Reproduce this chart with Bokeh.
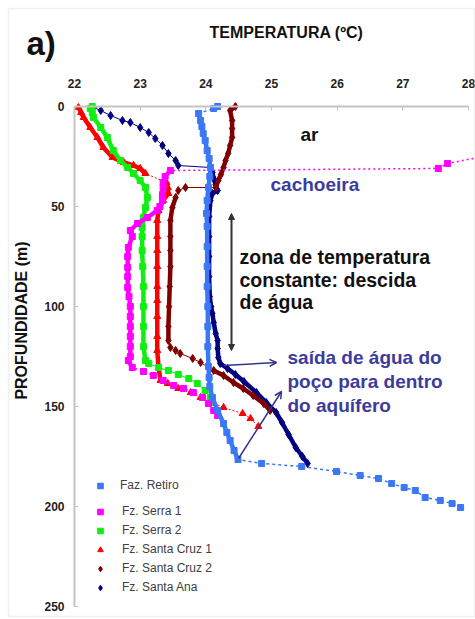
from bokeh.plotting import figure
from bokeh.models import (Range1d, FixedTicker, Label, Arrow, OpenHead, NormalHead,
                          Legend, LegendItem, BoxAnnotation, ColumnDataSource, LinearAxis)
from bokeh.embed import file_html
from bokeh.resources import INLINE

# ---------------- data (temperature in degC, depth in m) ----------------
retiro_head_depth = [0, 1]
retiro_head_temp = [24.18, 24.12]
retiro_depth = [3.5, 7, 10, 13.5, 17, 22, 26, 30.5, 35, 40.5, 47, 53.5, 60, 70, 80, 90, 100, 110,
                120, 130, 135.5, 140, 145.5, 152, 158.5, 163, 167, 172, 176.5]
retiro_temp = [23.89, 23.92, 23.94, 23.96, 23.99, 24.02, 24.05, 24.07, 24.06, 24.04, 24.02, 24.01,
               24.02, 24.02, 24.02, 24.02, 24.03, 24.03, 24.03, 24.04, 24.05, 24.06, 24.10, 24.18,
               24.27, 24.32, 24.37, 24.43, 24.49]
retiro_tail_depth = [178.5, 180, 182.5, 184.5, 186, 188.5, 190.5, 192, 195.5, 197, 198.5, 200.5]
retiro_tail_temp = [24.85, 25.46, 25.99, 26.35, 26.63, 26.83, 27.02, 27.19, 27.34, 27.57, 27.75, 27.88]

serra1_air_depth = [24.5, 28.5, 31]
serra1_air_temp = [28.3, 27.68, 27.54]
serra1_depth = [32, 35, 38, 40.5, 44, 47, 50, 52, 55.5, 58.5, 62, 65, 70.5, 75, 80.5, 85, 90.5, 95,
                100, 105, 110, 115, 120, 125, 127, 130.5]
serra1_temp = [23.46, 23.38, 23.35, 23.35, 23.34, 23.34, 23.30, 23.26, 23.11, 22.96, 22.85, 22.88,
               22.82, 22.81, 22.81, 22.81, 22.81, 22.83, 22.85, 22.85, 22.85, 22.85, 22.85, 22.85,
               22.82, 22.88]
serra1_drop_depth = [132.5, 134.5, 137, 139.5, 141, 143, 145.5, 148.5, 152, 154.5]
serra1_drop_temp = [23.05, 23.20, 23.35, 23.51, 23.66, 23.81, 23.95, 24.04, 24.12, 24.18]

serra2_depth = [0, 1, 3, 5.5, 10.5, 15.5, 22, 27, 30.5, 33.5, 37, 40.5, 45.5, 50.5, 55.5, 60.5, 65,
                72, 80, 90, 100, 110, 120, 127]
serra2_temp = [22.27, 22.24, 22.27, 22.29, 22.40, 22.50, 22.59, 22.70, 22.81, 22.90, 23.00, 23.08,
               23.11, 23.08, 23.05, 23.03, 23.03, 23.03, 23.04, 23.05, 23.05, 23.05, 23.05, 23.08]
serra2_drop_depth = [128.5, 130.5, 132, 134, 136, 138.5, 142, 145.5, 148]
serra2_drop_temp = [23.13, 23.28, 23.43, 23.58, 23.74, 23.87, 23.99, 24.07, 24.10]

cruz1_top_depth = [0.5, 3, 5.5, 10.5, 15.5, 20.5, 25.5, 28, 29.5, 31, 33.5]
cruz1_top_temp = [22.06, 22.10, 22.14, 22.24, 22.35, 22.44, 22.58, 22.75, 22.90, 23.00, 23.08]
cruz1_depth = [38, 40.5, 43.5, 47, 52, 57, 65, 72, 80, 90, 97, 105, 115, 122, 130.5, 137]
cruz1_temp = [23.40, 23.42, 23.43, 23.35, 23.28, 23.26, 23.26, 23.26, 23.26, 23.26, 23.26, 23.26,
              23.26, 23.26, 23.28, 23.31]
cruz1_drop_depth = [138.5, 141, 143, 145.5, 148, 150.5, 153.5, 156, 160]
cruz1_drop_temp = [23.42, 23.58, 23.77, 23.92, 24.10, 24.27, 24.56, 24.68, 24.80]

cruz2_top_depth = [0, 2, 7, 11, 15.5, 19.5, 23.5, 27, 30.5, 34, 37, 40.5]
cruz2_top_temp = [24.45, 24.37, 24.40, 24.40, 24.40, 24.37, 24.34, 24.30, 24.27, 24.23, 24.19, 24.15]
cruz2_jump_depth = [40.5, 42]
cruz2_jump_temp = [23.69, 23.58]
cruz2_depth = [45.5, 50.5, 57, 65, 72, 80, 90, 100, 110, 117]
cruz2_temp = [23.54, 23.49, 23.46, 23.46, 23.46, 23.46, 23.45, 23.44, 23.43, 23.43]
cruz2_bend_depth = [120.5, 122, 123.5, 126, 128]
cruz2_bend_temp = [23.46, 23.54, 23.61, 23.80, 23.92]
cruz2_drop_depth = [132, 134.5, 138, 141, 144.5, 148.5, 152]
cruz2_drop_temp = [24.12, 24.27, 24.42, 24.57, 24.72, 24.88, 24.98]

ana_top_depth = [0.5, 2, 4.5, 7, 8, 10.5, 13, 16, 19.5, 23.5, 27, 29.5]
ana_top_temp = [22.29, 22.40, 22.55, 22.73, 22.85, 23.00, 23.13, 23.23, 23.34, 23.43, 23.54, 23.58]
ana_depth = [30.5, 33, 36, 39, 42, 43.5, 47, 55, 65, 75, 85, 95, 100, 103.5, 108, 113.5, 117, 121,
             125.5, 128.5, 131, 134, 137.5, 143, 148, 153, 158, 164, 170.5, 175, 178.5]
ana_temp = [24.07, 24.10, 24.12, 24.15, 24.18, 24.10, 24.07, 24.05, 24.05, 24.05, 24.05, 24.06,
            24.08, 24.10, 24.12, 24.15, 24.18, 24.18, 24.19, 24.22, 24.33, 24.45, 24.58, 24.77,
            24.92, 25.07, 25.16, 25.26, 25.37, 25.47, 25.55]

x_ticks = [22, 23, 24, 25, 26, 27, 28]
y_ticks = [0, 50, 100, 150, 200, 250]

FONT = "Liberation Sans"
W, H = 475, 619

# pixel -> data helpers (the frame covers the whole canvas)
def X(px):
    return 22 + (px - 74) / (394 / 6)

def Y(py):
    return (py - 106) / 2.0

p = figure(width=W, height=H, x_range=Range1d(X(0), X(W)), y_range=Range1d(Y(H), Y(0)),
           x_axis_type=None, y_axis_type=None, output_backend="svg", toolbar_location=None,
           min_border=0)
p.outline_line_color = None
p.grid.visible = False
p.background_fill_color = "white"
p.border_fill_color = "white"

xaxis = LinearAxis(fixed_location=0, bounds=(22, 28), ticker=FixedTicker(ticks=x_ticks))
yaxis = LinearAxis(fixed_location=22, bounds=(0, 250), ticker=FixedTicker(ticks=y_ticks))
for ax in (xaxis, yaxis):
    ax.axis_line_color = "#c4c4c4"
    ax.axis_line_width = 2
    ax.major_tick_line_color = "#c4c4c4"
    ax.major_tick_in = 4
    ax.major_tick_out = 0
    ax.minor_tick_line_color = None
    ax.major_label_text_font = FONT
    ax.major_label_text_font_style = "bold"
    ax.major_label_text_font_size = "12px"
    ax.major_label_text_color = "#222222"
xaxis.major_label_standoff = 19
yaxis.major_label_standoff = 10
p.add_layout(xaxis, "above")
p.add_layout(yaxis, "left")

# outer frame
p.add_layout(BoxAnnotation(left=X(8), right=X(474), top=Y(8), bottom=Y(616),
                           fill_alpha=0, line_color="#cccccc", line_width=1.5))


def draw(segments, color, marker, size, thin_dash="solid", thin_width=1):
    all_t, all_d = [], []
    for t, d, dense in segments:
        all_t += t
        all_d += d
    p.line(all_t, all_d, line_color=color, line_width=thin_width, line_dash=thin_dash)
    for t, d, dense in segments:
        if dense:
            p.line(t, d, line_color=color, line_width=4.5, line_join="round", line_cap="round")
    src = ColumnDataSource(dict(t=all_t, d=all_d))
    r = p.scatter("t", "d", source=src, marker=marker, size=size, fill_color=color,
                  line_color=color)
    return r


r_ana = draw([(ana_top_temp, ana_top_depth, False), (ana_temp, ana_depth, True)],
             "#000080", "diamond", 8)
r_cruz2 = draw([(cruz2_top_temp, cruz2_top_depth, True), (cruz2_jump_temp, cruz2_jump_depth, False),
                (cruz2_temp, cruz2_depth, True), (cruz2_bend_temp, cruz2_bend_depth, False),
                (cruz2_drop_temp, cruz2_drop_depth, True)],
               "#800000", "diamond", 8)
r_cruz1 = draw([(cruz1_top_temp, cruz1_top_depth, True), (cruz1_temp, cruz1_depth, True),
                (cruz1_drop_temp, cruz1_drop_depth, False)],
               "#ff0000", "triangle", 7, thin_dash="2 2")
r_serra2 = draw([(serra2_temp, serra2_depth, True), (serra2_drop_temp, serra2_drop_depth, False)],
                "#11ee11", "square", 6)
r_serra1 = draw([(serra1_air_temp, serra1_air_depth, False), (serra1_temp, serra1_depth, True),
                 (serra1_drop_temp, serra1_drop_depth, False)],
                "#ff00ff", "square", 6, thin_dash="2 3", thin_width=1.5)
r_retiro = draw([(retiro_head_temp, retiro_head_depth, False), (retiro_temp, retiro_depth, True),
                 (retiro_tail_temp, retiro_tail_depth, False)],
                "#3a78f5", "square", 6, thin_dash="3 3", thin_width=1.5)

# legends (location measured from the bottom-left corner of the frame = canvas)
common = dict(background_fill_alpha=0, border_line_color=None, padding=0, spacing=0, margin=0,
              glyph_width=14, glyph_height=19, label_height=19, label_standoff=15,
              label_text_font=FONT, label_text_font_size="12px", label_text_color="#404040",
              label_text_baseline="middle")
leg1 = Legend(items=[LegendItem(label="Faz. Retiro", renderers=[r_retiro])],
              location=(93, H - 494.5), **common)
leg1.label_standoff = 13
leg2 = Legend(items=[LegendItem(label="Fz. Serra 1", renderers=[r_serra1]),
                     LegendItem(label="Fz. Serra 2", renderers=[r_serra2]),
                     LegendItem(label="Fz. Santa Cruz 1", renderers=[r_cruz1]),
                     LegendItem(label="Fz. Santa Cruz 2", renderers=[r_cruz2]),
                     LegendItem(label="Fz. Santa Ana", renderers=[r_ana])],
              location=(93, H - 596.5), **common)
p.add_layout(leg1)
p.add_layout(leg2)


# texts
def lab(px, py, text, size, color="#111111", align="left", angle=0.0):
    p.add_layout(Label(x=X(px), y=Y(py), text=text, text_font=FONT, text_font_size=size,
                       text_font_style="bold", text_color=color, text_align=align,
                       text_baseline="middle", angle=angle))

lab(26, 43, "a)", "33px")
lab(286, 32, "TEMPERATURA (ºC)", "16px", align="center")
lab(21, 320, "PROFUNDIDADE (m)", "16px", align="center", angle=1.5707963)
lab(309, 134, "ar", "19px", align="center")
BLUE_TXT = "#3c3c9c"
lab(270, 184, "cachoeira", "19px", color=BLUE_TXT)
lab(239, 256, "zona de temperatura", "19.5px")
lab(239, 279, "constante: descida", "19.5px")
lab(239, 301, "de água", "19.5px")
lab(287, 357, "saída de água do", "19px", color=BLUE_TXT)
lab(287, 381, "poço para dentro", "19px", color=BLUE_TXT)
lab(287, 405, "do aquífero", "19px", color=BLUE_TXT)

# arrows
p.add_layout(Arrow(start=NormalHead(size=6, fill_color="#333333", line_color="#333333"),
                   end=NormalHead(size=6, fill_color="#333333", line_color="#333333"),
                   x_start=X(231), y_start=Y(350), x_end=X(231), y_end=Y(213),
                   line_color="#333333", line_width=2))
p.add_layout(Arrow(end=OpenHead(size=7, line_color="#33338a", line_width=1.5),
                   x_start=X(223), y_start=Y(365), x_end=X(276), y_end=Y(362),
                   line_color="#33338a", line_width=1.5))
p.add_layout(Arrow(end=OpenHead(size=7, line_color="#33338a", line_width=1.5),
                   x_start=X(238), y_start=Y(458), x_end=X(281), y_end=Y(391),
                   line_color="#33338a", line_width=1.5))

open("out.html", "w").write(file_html(p, INLINE))
